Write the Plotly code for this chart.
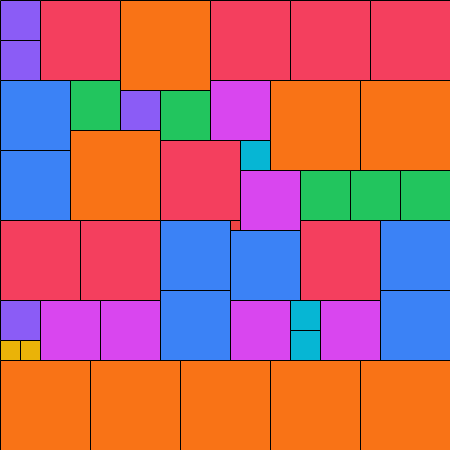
import plotly.graph_objects as go

# Cell layout in grid units (1 unit = 1/45 of the square)
cell_x = [0, 0, 4, 12, 21, 29, 37,
          0, 0, 7, 12, 16, 21, 27, 36, 7, 16, 24, 24, 30, 35, 40, 23,
          0, 8, 16, 16, 23, 30, 38, 38,
          0, 0, 2, 4, 10, 23, 29, 29, 32,
          0, 9, 18, 27, 36]
cell_y = [0, 4, 0, 0, 0, 0, 0,
          8, 15, 8, 9, 9, 8, 8, 8, 13, 14, 14, 17, 17, 17, 17, 22,
          22, 22, 22, 29, 23, 22, 22, 29,
          30, 34, 34, 30, 30, 30, 30, 33, 30,
          36, 36, 36, 36, 36]
cell_w = [4, 4, 8, 9, 8, 8, 8,
          7, 7, 5, 4, 5, 6, 9, 9, 9, 8, 3, 6, 5, 5, 5, 1,
          8, 8, 7, 7, 7, 8, 7, 7,
          4, 2, 2, 6, 6, 6, 3, 3, 6,
          9, 9, 9, 9, 9]
cell_h = [4, 4, 8, 9, 8, 8, 8,
          7, 7, 5, 4, 5, 6, 9, 9, 9, 8, 3, 6, 5, 5, 5, 1,
          8, 8, 7, 7, 7, 8, 7, 7,
          4, 2, 2, 6, 6, 6, 3, 3, 6,
          9, 9, 9, 9, 9]
cell_group = ["violet", "violet", "rose", "orange", "rose", "rose", "rose",
              "blue", "blue", "green", "violet", "green", "fuchsia", "orange", "orange", "orange", "rose", "cyan",
              "fuchsia", "green", "green", "green", "red",
              "rose", "rose", "blue", "blue", "blue", "rose", "blue", "blue",
              "violet", "amber", "amber", "fuchsia", "fuchsia", "fuchsia", "cyan", "cyan", "fuchsia",
              "orange", "orange", "orange", "orange", "orange"]

group_colors = {
    "violet": "#8B5CF6",
    "rose": "#F43F5E",
    "orange": "#F97316",
    "blue": "#3B82F6",
    "green": "#22C55E",
    "fuchsia": "#D946EF",
    "cyan": "#06B6D4",
    "amber": "#EAB308",
    "red": "#EF4444",
}

fig = go.Figure()
for x, y, w, h, g in zip(cell_x, cell_y, cell_w, cell_h, cell_group):
    fig.add_trace(go.Scatter(
        x=[x, x + w, x + w, x, x],
        y=[y, y, y + h, y + h, y],
        mode="lines",
        fill="toself",
        fillcolor=group_colors[g],
        line=dict(color="#000000", width=1),
        hoverinfo="skip",
        showlegend=False,
    ))

fig.update_layout(
    width=450, height=450,
    margin=dict(l=0, r=0, t=0, b=0),
    paper_bgcolor="white", plot_bgcolor="white",
    xaxis=dict(range=[-0.05, 44.95], visible=False, fixedrange=True),
    yaxis=dict(range=[44.95, -0.05], visible=False, fixedrange=True),
)

fig.write_html(
    "out.html",
    config={"displayModeBar": False, "responsive": False},
    post_script="document.body.style.margin='0';document.body.style.padding='0';"
                "document.documentElement.style.overflow='hidden';",
)
